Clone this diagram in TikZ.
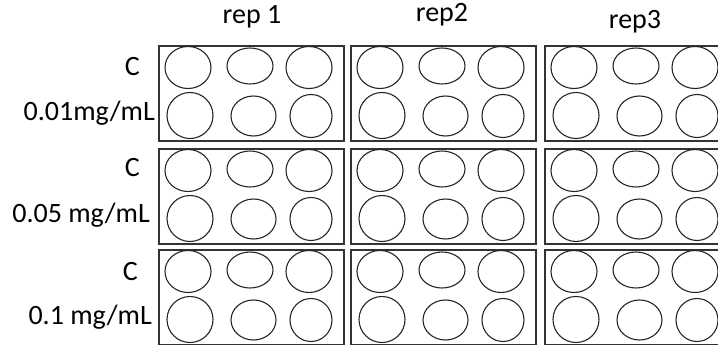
\documentclass[tikz,border=0pt]{standalone}
\usepackage{fontspec}
\setmainfont{Carlito}
\usetikzlibrary{positioning}

\tikzset{
  plate/.style={draw=black!80, line width=1.6pt, rectangle, minimum width=185pt, minimum height=95pt, anchor=north west, inner sep=0pt},
  well/.style={draw=black!85, line width=1.1pt},
  lbl/.style={inner sep=0pt, font=\fontsize{28}{32}\selectfont},
  conc/.style={lbl, anchor=east}
}

\begin{document}
\begin{tikzpicture}[x=1pt, y=-1pt]
  \useasboundingbox (0,0) rectangle (718,345);
  \clip (0,0) rectangle (718,345);

  % replicate headers
  \node[lbl] (rep1) at (252,17) {rep 1};
  \node[lbl] (rep2) at (442,15) {rep2};
  \node[lbl] (rep3) at (635,22) {rep3};

  % row labels
  \node[conc] (c1) at (140,67) {C};
  \node[conc] (d1) at (155,113) {0.01mg/mL};
  \node[conc] (c2) at (140,168) {C};
  \node[conc] (d2) at (150,215) {0.05 mg/mL};
  \node[conc] (c3) at (138,272) {C};
  \node[conc] (d3) at (152,317) {0.1 mg/mL};

  % plates with six wells each
  \foreach \r/\py in {1/45, 2/148, 3/249} {
    \foreach \c/\px in {1/158, 2/350, 3/544} {
      \node[plate] (plate\r\c) at (\px,\py) {};
      \foreach \wx/\wy/\rx/\ry in {30/22.5/23/21, 92/21/23/18, 151/22.5/23/21,
                                   32/70.5/23/23, 95.5/71/22.5/20, 153/71/21/21.5}
        \draw[well] (\px+\wx,\py+\wy) ellipse [x radius=\rx, y radius=\ry];
    }
  }
\end{tikzpicture}
\end{document}
